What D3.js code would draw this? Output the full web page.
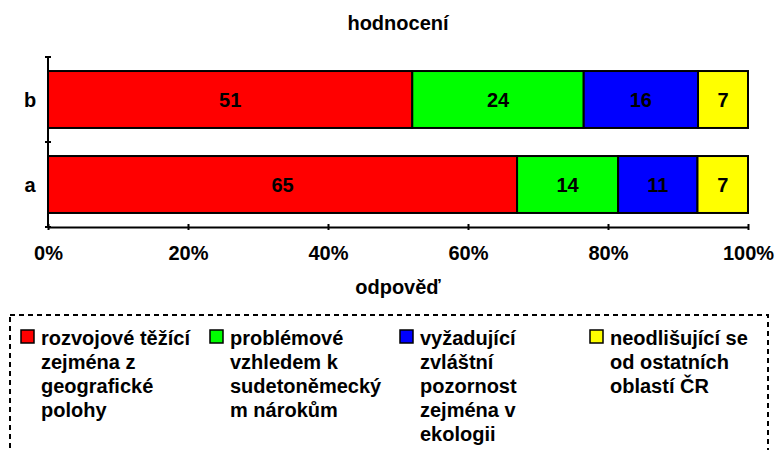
<!DOCTYPE html>
<html>
<head>
<meta charset="utf-8">
<script src="https://cdn.jsdelivr.net/npm/d3@7.9.0/dist/d3.min.js"></script>
<style>
  body { margin: 0; background: #fff; }
  svg { display: block; font-family: "Liberation Sans", Arial, sans-serif; font-weight: bold; }
</style>
</head>
<body>
<svg width="776" height="450"></svg>
<script>
// data
const categories = ['b', 'a'];
const seriesKeys = ['rozvojove', 'problemove', 'vyzadujici', 'neodlisujici'];
const rozvojove = [51, 65];
const problemove = [24, 14];
const vyzadujici = [16, 11];
const neodlisujici = [7, 7];
const colors = ['#ff0000', '#00ff00', '#0000ff', '#ffff00'];
const legendLines = [
  ['rozvojové těžící', 'zejména z', 'geografické', 'polohy'],
  ['problémové', 'vzhledem k', 'sudetoněmecký', 'm nárokům'],
  ['vyžadující', 'zvláštní', 'pozornost', 'zejména v', 'ekologii'],
  ['neodlišující se', 'od ostatních', 'oblastí ČR']
];
const xTicks = [0, 0.2, 0.4, 0.6, 0.8, 1];

const rows = categories.map((c, i) => ({
  cat: c,
  rozvojove: rozvojove[i],
  problemove: problemove[i],
  vyzadujici: vyzadujici[i],
  neodlisujici: neodlisujici[i]
}));

const svg = d3.select('svg');
const plotLeft = 48, plotRight = 748, plotTop = 57, plotBottom = 227;

const x = d3.scaleLinear().domain([0, 1]).range([plotLeft, plotRight]);
const y = d3.scaleBand().domain(categories).range([plotTop, plotBottom])
  .paddingInner(0.33).paddingOuter(0.165);

const stacked = d3.stack().keys(seriesKeys).offset(d3.stackOffsetExpand)(rows);

// title
svg.append('text').attr('x', (plotLeft + plotRight) / 2).attr('y', 30).attr('text-anchor', 'middle')
  .attr('font-size', 20).text('hodnocení');

// bars
const groups = svg.selectAll('g.series').data(stacked).enter().append('g')
  .attr('class', 'series')
  .attr('fill', (d, i) => colors[i]);

groups.selectAll('rect').data(d => d).enter().append('rect')
  .attr('x', d => x(d[0]))
  .attr('y', d => y(d.data.cat))
  .attr('width', d => x(d[1]) - x(d[0]))
  .attr('height', y.bandwidth())
  .attr('stroke', '#000').attr('stroke-width', 2);

groups.each(function(s) {
  d3.select(this).selectAll('text.val').data(s).enter().append('text')
    .attr('class', 'val')
    .attr('x', d => (x(d[0]) + x(d[1])) / 2)
    .attr('y', d => y(d.data.cat) + y.bandwidth() / 2 + 7)
    .attr('text-anchor', 'middle').attr('font-size', 20).attr('fill', '#000')
    .text(d => d.data[s.key]);
});

// x axis
const xAxis = svg.append('g').attr('transform', `translate(0,${plotBottom})`)
  .call(d3.axisBottom(x).tickValues(xTicks).tickFormat(d3.format('.0%')).tickSize(0).tickPadding(0));
xAxis.select('.domain').attr('stroke', '#000').attr('stroke-width', 2);
xAxis.selectAll('.tick line').attr('y1', -3).attr('y2', 3).attr('stroke', '#000').attr('stroke-width', 2);
xAxis.selectAll('.tick text').attr('y', 33).attr('dy', 0).attr('font-size', 20)
  .attr('fill', '#000');
xAxis.attr('font-family', null).attr('font-size', null);

// y axis
const yBounds = [plotTop, plotTop + y.step(), plotBottom];
svg.append('line').attr('x1', plotLeft).attr('x2', plotLeft).attr('y1', plotTop).attr('y2', plotBottom)
  .attr('stroke', '#000').attr('stroke-width', 2);
svg.selectAll('line.ytick').data(yBounds).enter().append('line')
  .attr('class', 'ytick')
  .attr('x1', plotLeft - 3).attr('x2', plotLeft + 3).attr('y1', d => d).attr('y2', d => d)
  .attr('stroke', '#000').attr('stroke-width', 2);
svg.selectAll('text.ylab').data(categories).enter().append('text')
  .attr('class', 'ylab')
  .attr('x', 30).attr('y', d => y(d) + y.bandwidth() / 2 + 7)
  .attr('text-anchor', 'middle').attr('font-size', 20).text(d => d);

// x axis title
svg.append('text').attr('x', (plotLeft + plotRight) / 2).attr('y', 294).attr('text-anchor', 'middle')
  .attr('font-size', 20).text('odpověď');

// legend
svg.append('rect').attr('x', 10).attr('y', 315).attr('width', 758).attr('height', 150)
  .attr('fill', 'none').attr('stroke', '#000').attr('stroke-width', 2)
  .attr('stroke-dasharray', '5,4');

const legendX = [21, 210, 400, 590];
const leg = svg.selectAll('g.leg').data(legendLines).enter().append('g')
  .attr('class', 'leg')
  .attr('transform', (d, i) => `translate(${legendX[i]},330)`);
leg.append('rect').attr('width', 13).attr('height', 13)
  .attr('fill', (d, i) => colors[i]).attr('stroke', '#000').attr('stroke-width', 1.5);
leg.append('text').attr('font-size', 20)
  .selectAll('tspan').data(d => d).enter().append('tspan')
  .attr('x', 20).attr('y', (d, i) => 15 + i * 24).text(d => d);
</script>
</body>
</html>
